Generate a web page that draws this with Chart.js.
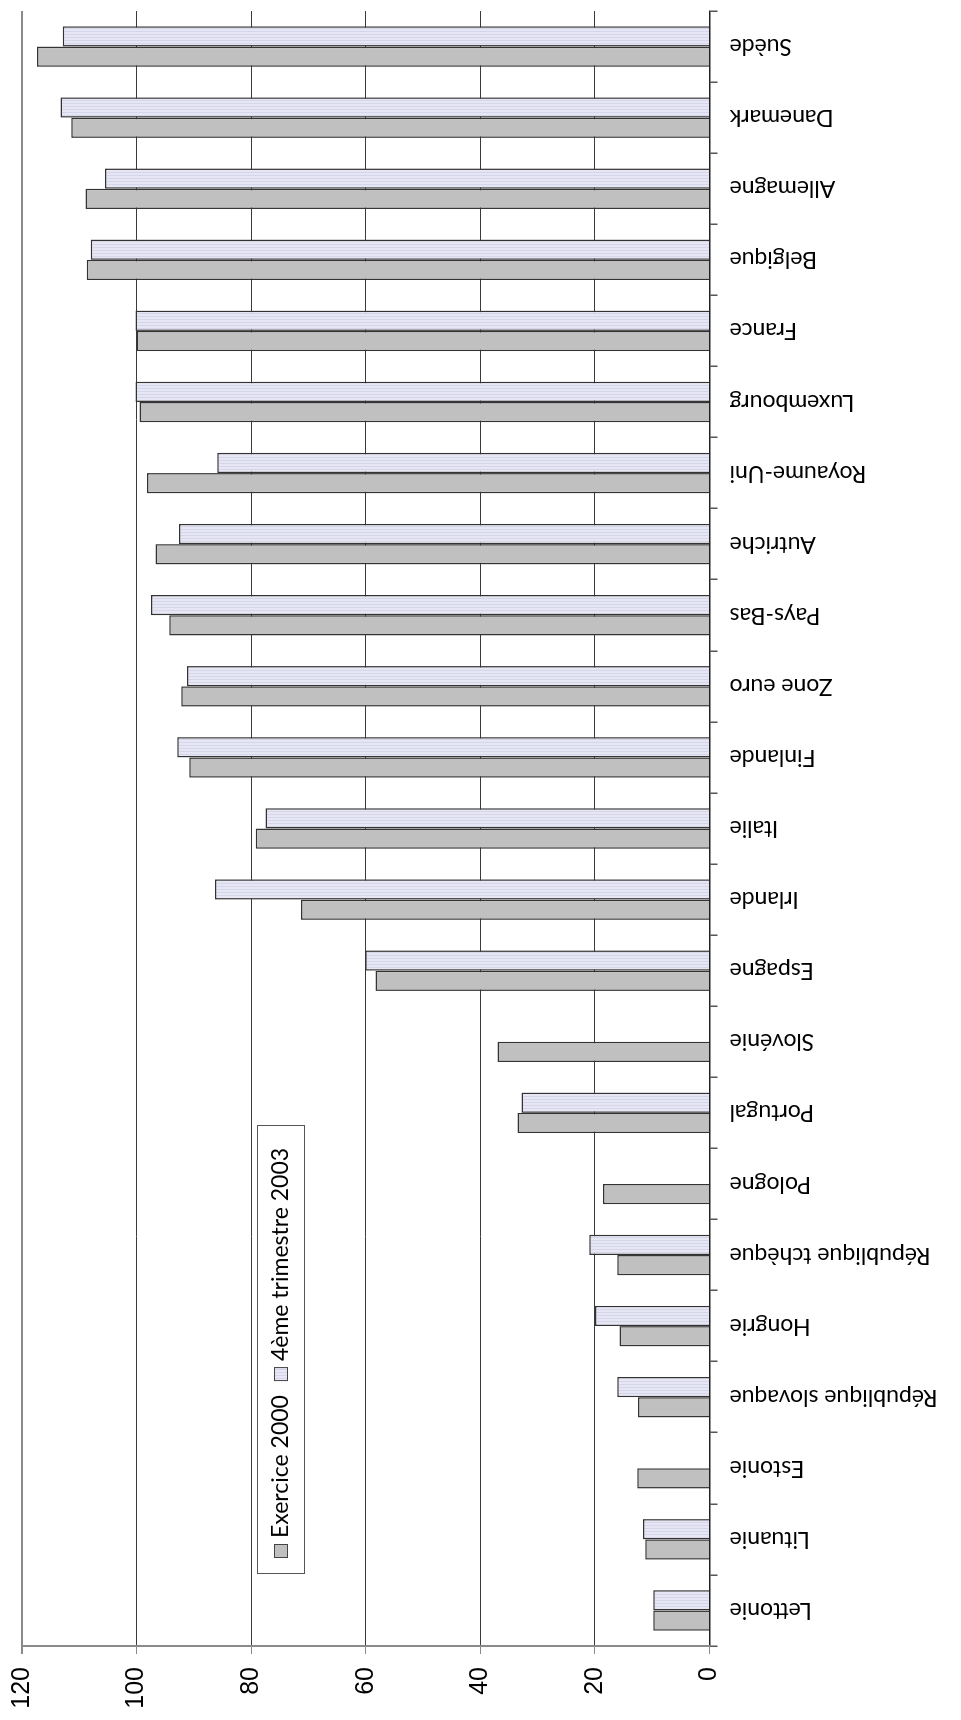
<!DOCTYPE html>
<html>
<head>
<meta charset="utf-8">
<script src="https://cdn.jsdelivr.net/npm/chart.js@4.4.1/dist/chart.umd.min.js"></script>
<style>
html, body { margin: 0; padding: 0; background: #fff; overflow: hidden; }
/* the chart is drawn upright, then turned a quarter turn to the left */
#wrap { position: absolute; left: 0; top: 0; width: 1720px; height: 961px;
	transform-origin: 0 0; transform: translate(0, 1720px) rotate(-90deg); }
</style>
</head>
<body>
<div id="wrap"><canvas id="chart" width="1720" height="961"></canvas></div>
<script>
var categories = [
	'Lettonie', 'Lituanie', 'Estonie', 'République slovaque', 'Hongrie',
	'République tchèque', 'Pologne', 'Portugal', 'Slovénie', 'Espagne',
	'Irlande', 'Italie', 'Finlande', 'Zone euro', 'Pays-Bas', 'Autriche',
	'Royaume-Uni', 'Luxembourg', 'France', 'Belgique', 'Allemagne',
	'Danemark', 'Suède'
];
var exercice2000 = [
	9.8, 11.2, 12.6, 12.5, 15.7, 16.1, 18.6, 33.5, 37.0, 58.3, 71.3, 79.2,
	90.8, 92.2, 94.3, 96.7, 98.2, 99.5, 100, 108.7, 108.9, 111.4, 117.4
];
var trimestre2003 = [
	9.8, 11.6, null, 16.1, 20.0, 21.0, null, 32.8, null, 60.1, 86.3, 77.5,
	92.9, 91.2, 97.5, 92.6, 85.9, 100.2, 100.2, 108.0, 105.5, 113.3, 112.9
];
var seriesNames = ['Exercice 2000', '4ème trimestre 2003'];
var valueTicks = [0, 20, 40, 60, 80, 100, 120];

var canvas = document.getElementById('chart');
var ctx = canvas.getContext('2d');

// thin stripes for the lavender bars
var makeStripes = () => {
	var c = document.createElement('canvas');
	c.width = 3;
	c.height = 1;
	var g = c.getContext('2d');
	g.fillStyle = '#e6e6f5';
	g.fillRect(0, 0, 3, 1);
	g.fillStyle = '#d6d6ea';
	g.fillRect(2, 0, 1, 1);
	return ctx.createPattern(c, 'repeat');
}

var legendFont = '23px Lato';

var legendBox = {
	id: 'legendBox',
	afterDraw(chart) {
		var g = chart.ctx;
		g.save();
		g.fillStyle = '#fff';
		g.fillRect(146, 257, 448, 47);
		g.strokeStyle = '#555';
		g.lineWidth = 1;
		g.strokeRect(146.5, 257.5, 448, 47);
		g.font = legendFont;
		g.textBaseline = 'middle';
		var x = 162;
		chart.data.datasets.forEach(ds => {
			g.fillStyle = ds.backgroundColor;
			g.fillRect(x, 274, 14, 14);
			g.strokeStyle = '#444';
			g.strokeRect(x + 0.5, 274.5, 13, 13);
			x += 20;
			g.fillStyle = '#000';
			g.fillText(ds.label, x, 281);
			x += g.measureText(ds.label).width + 14;
		});
		g.restore();
	}
};

var config = {
	type: 'bar',
	data: {
		labels: categories,
		datasets: [{
			label: seriesNames[0],
			data: exercice2000,
			backgroundColor: '#c0c0c0',
			borderColor: '#333',
			borderWidth: 1.5
		}, {
			label: seriesNames[1],
			data: trimestre2003,
			backgroundColor: makeStripes(),
			borderColor: '#333',
			borderWidth: 1.5
		}]
	},
	options: {
		responsive: false,
		devicePixelRatio: 1,
		animation: false,
		categoryPercentage: 0.57,
		barPercentage: 1.0,
		layout: { padding: { top: 22, right: 11, left: 0, bottom: 0 } },
		plugins: {
			legend: { display: false },
			tooltip: { enabled: false }
		},
		scales: {
			x: {
				grid: {
					drawOnChartArea: false,
					offset: true,
					tickLength: 8,
					tickColor: '#555',
					lineWidth: 1.5
				},
				border: { color: '#222', width: 1.5 },
				ticks: {
					autoSkip: false,
					minRotation: 90,
					maxRotation: 90,
					padding: 12,
					color: '#000',
					font: { family: 'Lato', size: 23 }
				},
				afterFit: (s) => {
					s.height = 251.5;
					s.paddingLeft = 0;
					s.paddingRight = 0;
				}
			},
			y: {
				min: 0,
				max: 120,
				afterBuildTicks: (s) => {
					s.ticks = valueTicks.map(v => ({ value: v }));
				},
				grid: {
					color: (c) => (c.tick && c.tick.value === 120) ? '#8a8a8a' : '#3a3a3a',
					lineWidth: (c) => (c.tick && c.tick.value === 120) ? 2 : 1,
					tickLength: 8,
					tickColor: '#8a8a8a'
				},
				border: { color: '#8a8a8a', width: 2 },
				ticks: {
					padding: 13,
					color: '#000',
					font: { family: "'Liberation Sans Narrow', 'Liberation Sans', Arial", size: 25 }
				},
				afterFit: (s) => {
					s.width = 74;
					s.paddingTop = 0;
					s.paddingBottom = 0;
				}
			}
		}
	},
	plugins: [legendBox]
};

var chart = new Chart(canvas, config);
</script>
</body>
</html>
